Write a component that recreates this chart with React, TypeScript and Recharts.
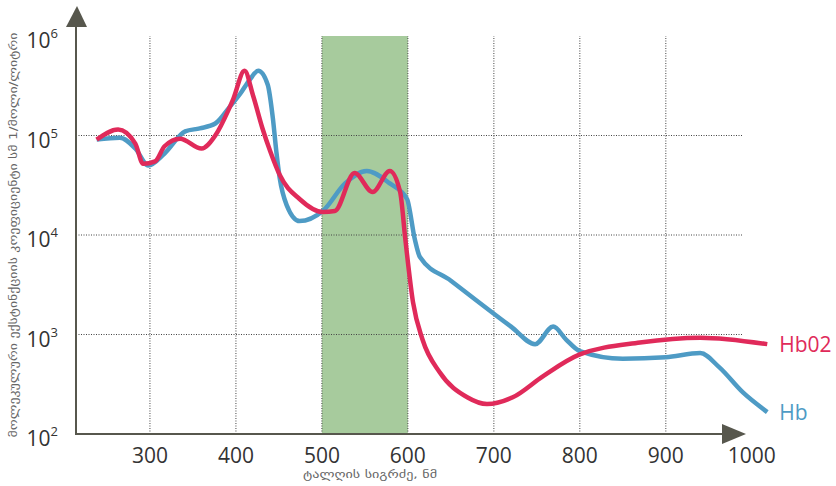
import React from "react";
import {
  LineChart,
  Line,
  XAxis,
  YAxis,
  ReferenceArea,
  ReferenceLine,
} from "recharts";

// wavelength (nm) and molar extinction
const hbWavelength = [238, 265, 283, 298, 317, 341, 358, 376, 393, 405, 416, 426, 437, 443, 447, 451, 459, 474, 501, 527, 552, 579, 599, 608, 614, 650, 720, 748, 769, 784, 800, 850, 900, 940, 962, 990, 1018];
const hbValues = [91000, 95000, 74000, 50000, 66000, 110000, 118000, 132000, 195000, 263000, 363000, 447000, 324000, 148000, 69000, 37000, 20000, 13800, 17400, 33000, 44000, 33000, 23000, 9100, 6000, 3470, 1200, 800, 1200, 890, 680, 570, 590, 650, 470, 260, 166];

const hbo2Wavelength = [238, 263, 283, 292, 306, 317, 335, 360, 376, 391, 397, 410, 420, 431, 440, 451, 474, 501, 515, 538, 559, 579, 591, 597, 606, 617, 637, 669, 692, 722, 757, 800, 870, 940, 1018];
const hbo2Values = [91000, 115000, 83000, 52000, 55000, 78000, 93000, 74000, 100000, 178000, 234000, 447000, 251000, 117000, 69000, 40000, 23000, 17000, 17400, 42000, 27000, 44000, 27000, 9100, 2100, 890, 417, 234, 200, 234, 380, 630, 830, 930, 800];

const xTicks = [300, 400, 500, 600, 700, 800, 900, 1000];
const yTicks = [100, 1000, 10000, 100000, 1000000];
const gridX = [300, 400, 500, 600, 700, 800, 900];
const gridY = [1000, 10000, 100000];

const hbData = hbWavelength.map((x, i) => ({ x, v: hbValues[i] }));
const hbo2Data = hbo2Wavelength.map((x, i) => ({ x, v: hbo2Values[i] }));

const RED = "#e02a5a";
const BLUE = "#4e9bc5";
const AXIS = "#57574d";
const FONT = "'Open Sans', 'DejaVu Sans', sans-serif";

const XTick = ({ x, y, payload }: any) => (
  <text x={x} y={y + 29} textAnchor="middle" fontSize={21} fill="#333" fontFamily={FONT}>
    {payload.value}
  </text>
);

const YTick = ({ x, y, payload }: any) => {
  const exp = Math.round(Math.log10(payload.value));
  return (
    <text x={x - 18} y={y + 12} textAnchor="end" fontSize={21} fill="#333" fontFamily={FONT}>
      10<tspan dy={-10} fontSize={13}>{exp}</tspan>
    </text>
  );
};

const endLabel = (name: string, color: string, last: number) => (props: any) => {
  if (props.index !== last) return null;
  return (
    <text x={props.x + 12} y={props.y + 8} fontSize={21} fill={color} fontFamily={FONT}>
      {name}
    </text>
  );
};

export default function App() {
  return (
    <div style={{ position: "absolute", left: 0, top: 0, width: 836, height: 486, background: "#fff" }}>
      <LineChart width={836} height={486} margin={{ top: 36, right: 67, bottom: 0, left: 0 }}>
        <XAxis
          type="number"
          dataKey="x"
          domain={[214, 1020]}
          ticks={xTicks}
          tick={<XTick />}
          tickSize={0}
          tickMargin={0}
          axisLine={false}
          tickLine={false}
          height={52}
          allowDuplicatedCategory={false}
        />
        <YAxis
          type="number"
          scale="log"
          domain={[100, 1000000]}
          ticks={yTicks}
          tick={<YTick />}
          tickSize={0}
          tickMargin={0}
          axisLine={false}
          tickLine={false}
          width={76}
        />
        <ReferenceArea x1={500} x2={600} y1={100} y2={1000000} fill="#a7cb9d" fillOpacity={1} stroke="none" />
        {gridX.map((g) => (
          <ReferenceLine
            key={"gx" + g}
            segment={[{ x: g, y: 100 }, { x: g, y: 1000000 }]}
            stroke="#444"
            strokeDasharray="1 1.5"
          />
        ))}
        {gridY.map((g) => (
          <ReferenceLine
            key={"gy" + g}
            segment={[{ x: 214, y: g }, { x: 990, y: g }]}
            stroke="#444"
            strokeDasharray="1 1.5"
          />
        ))}
        <Line
          data={hbData}
          dataKey="v"
          type="monotone"
          stroke={BLUE}
          strokeWidth={4.5}
          dot={false}
          isAnimationActive={false}
          label={endLabel("Hb", BLUE, hbData.length - 1)}
        />
        <Line
          data={hbo2Data}
          dataKey="v"
          type="monotone"
          stroke={RED}
          strokeWidth={4.5}
          dot={false}
          isAnimationActive={false}
          label={endLabel("Hb02", RED, hbo2Data.length - 1)}
        />
      </LineChart>
      <svg width={836} height={486} style={{ position: "absolute", left: 0, top: 0, pointerEvents: "none" }}>
        <line x1={76} y1={434} x2={76} y2={22} stroke={AXIS} strokeWidth={2} />
        <polygon points="66,27 87,27 77,6" fill={AXIS} />
        <line x1={75} y1={434} x2={726} y2={434} stroke={AXIS} strokeWidth={2} />
        <polygon points="722,424 722,444 746,434" fill={AXIS} />
        <text
          transform="translate(17,235) rotate(-90)"
          textAnchor="middle"
          fontSize={11}
          fill="#666"
          fontFamily="'DejaVu Sans', sans-serif"
          textLength={405}
          lengthAdjust="spacingAndGlyphs"
        >
          მოლეკულური ექსტინქციის კოეფიციენტი სმ 1/მოლი/ლიტრი
        </text>
        <text
          x={370}
          y={478}
          textAnchor="middle"
          fontSize={11}
          fill="#666"
          fontFamily="'DejaVu Sans', sans-serif"
          textLength={134}
          lengthAdjust="spacingAndGlyphs"
        >
          ტალღის სიგრძე, ნმ
        </text>
      </svg>
    </div>
  );
}
